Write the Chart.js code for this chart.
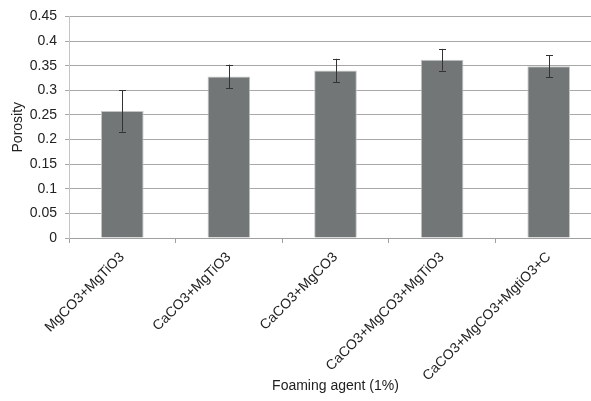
<!DOCTYPE html>
<html lang="en">
<head>
  <meta charset="UTF-8">
  <title>Porosity by foaming agent</title>
  <script src="https://cdn.jsdelivr.net/npm/chart.js"></script>
  <style>
    html, body { margin: 0; padding: 0; overflow: hidden; background: #fff; }
    /* plot area runs past the right edge in the original, so the box is wider than the window */
    .chart-container { width: 602px; height: 401px; position: relative; }
  </style>
</head>
<body>
  <div class="chart-container">
    <canvas id="porosityChart"></canvas>
  </div>

<script>
  const agents   = ['MgCO3+MgTiO3', 'CaCO3+MgTiO3', 'CaCO3+MgCO3', 'CaCO3+MgCO3+MgTiO3', 'CaCO3+MgCO3+MgtiO3+C'];
  const porosity = [0.258, 0.328, 0.340, 0.362, 0.349];
  const errLow   = [0.042, 0.024, 0.024, 0.022, 0.022];
  const errHigh  = [0.042, 0.024, 0.024, 0.022, 0.022];

  const textColor = '#222';
  const font = { family: '"Liberation Sans", Arial, sans-serif', size: 14 };

  // error bars drawn with the chart's own scales
  const errorBars = {
    id: 'errorBars',
    afterDatasetsDraw(chart) {
      const { ctx, scales: { x, y } } = chart;
      ctx.save();
      ctx.strokeStyle = '#333';
      ctx.lineWidth = 1;
      porosity.forEach((v, i) => {
        const px = Math.round(x.getPixelForValue(i)) + 0.5;
        const top = y.getPixelForValue(v + errHigh[i]);
        const bot = y.getPixelForValue(v - errLow[i]);
        ctx.beginPath();
        ctx.moveTo(px, top); ctx.lineTo(px, bot);
        ctx.moveTo(px - 3.5, Math.round(top) + 0.5); ctx.lineTo(px + 3.5, Math.round(top) + 0.5);
        ctx.moveTo(px - 3.5, Math.round(bot) + 0.5); ctx.lineTo(px + 3.5, Math.round(bot) + 0.5);
        ctx.stroke();
      });
      ctx.restore();
    }
  };

  new Chart(document.getElementById('porosityChart').getContext('2d'), {
    type: 'bar',
    data: {
      labels: agents,
      datasets: [{
        data: porosity,
        backgroundColor: '#727677',
        borderColor: '#c4c6c6',
        borderWidth: 1,
        barPercentage: 0.4,
        categoryPercentage: 1.0
      }]
    },
    options: {
      responsive: true,
      maintainAspectRatio: false,
      animation: false,
      layout: { padding: { top: 16, right: 0, left: 10, bottom: 6 } },
      plugins: { legend: { display: false }, tooltip: { enabled: false } },
      scales: {
        x: {
          grid: { display: true, drawOnChartArea: false, tickLength: 5, color: '#a0a0a0', offset: true },
          border: { color: '#a0a0a0' },
          ticks: { color: textColor, font: font, minRotation: 45, maxRotation: 45, autoSkip: false, padding: 6 },
          title: { display: true, text: 'Foaming agent (1%)', color: textColor, font: font, padding: { top: 4, bottom: 0 } },
          afterFit(scale) { scale.height = 157; }
        },
        y: {
          min: 0,
          max: 0.45,
          ticks: { stepSize: 0.05, color: textColor, font: font, padding: 8,
                   callback: v => Math.round(v * 100) / 100 },
          grid: { color: '#a8a8a8', tickLength: 4 },
          border: { color: '#c4c4c4' },
          title: { display: true, text: 'Porosity', color: textColor, font: font, padding: { top: 0, bottom: 4 } },
          afterFit(scale) { scale.width = 59; }
        }
      }
    },
    plugins: [errorBars]
  });
</script>
</body>
</html>
